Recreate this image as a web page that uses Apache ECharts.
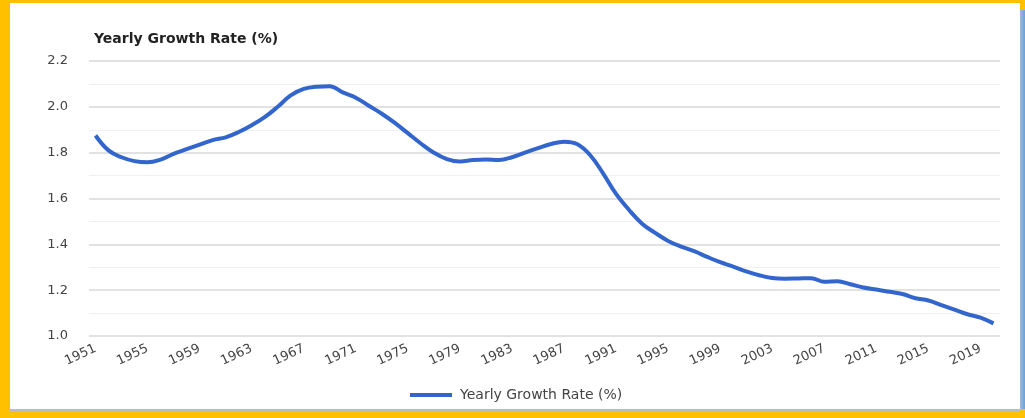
<!DOCTYPE html>
<html>
<head>
<meta charset="utf-8">
<script src="https://cdn.jsdelivr.net/npm/echarts@6/dist/echarts.min.js"></script>
<style>
  html, body { margin: 0; padding: 0; width: 1025px; height: 418px; overflow: hidden; background: #FFC000; }
  #panel { position: absolute; left: 10px; top: 3px; width: 1010px; height: 406px; background: #ffffff; border-bottom: 2px solid #b9bcc4; }
  #strip { position: absolute; left: 1020px; top: 10px; width: 5px; height: 399px; background: linear-gradient(to right, #9dbde0, #6f9fd4); }
  #chart { position: absolute; left: 0; top: 0; width: 1025px; height: 418px; }
</style>
</head>
<body>
<div id="panel"></div>
<div id="strip"></div>
<div id="chart"></div>
<script>
const years = ['1951','1952','1953','1954','1955','1956','1957','1958','1959','1960',
  '1961','1962','1963','1964','1965','1966','1967','1968','1969','1970',
  '1971','1972','1973','1974','1975','1976','1977','1978','1979','1980',
  '1981','1982','1983','1984','1985','1986','1987','1988','1989','1990',
  '1991','1992','1993','1994','1995','1996','1997','1998','1999','2000',
  '2001','2002','2003','2004','2005','2006','2007','2008','2009','2010',
  '2011','2012','2013','2014','2015','2016','2017','2018','2019','2020'];

const growthRate = [1.875, 1.81, 1.78, 1.763, 1.758, 1.77, 1.795, 1.815, 1.835, 1.855,
  1.867, 1.89, 1.92, 1.955, 2.00, 2.05, 2.078, 2.088, 2.09, 2.063,
  2.04, 2.005, 1.97, 1.93, 1.885, 1.84, 1.80, 1.772, 1.761, 1.768,
  1.77, 1.768, 1.78, 1.80, 1.82, 1.838, 1.848, 1.838, 1.79, 1.71,
  1.62, 1.55, 1.49, 1.45, 1.415, 1.39, 1.37, 1.345, 1.322, 1.303,
  1.282, 1.265, 1.253, 1.25, 1.251, 1.252, 1.237, 1.239, 1.226, 1.212,
  1.203, 1.193, 1.183, 1.165, 1.155, 1.135, 1.115, 1.095, 1.08, 1.055];

const seriesName = 'Yearly Growth Rate (%)';
const axisTitle = 'Yearly Growth Rate (%)';

const chart = echarts.init(document.getElementById('chart'), null, { renderer: 'canvas' });
chart.setOption({
  backgroundColor: 'transparent',
  animation: false,
  title: {
    text: axisTitle,
    left: 89, top: 27,
    textStyle: { fontFamily: 'DejaVu Sans', fontWeight: 'bold', fontSize: 14, color: '#222' }
  },
  legend: {
    data: [{ name: seriesName, icon: 'rect' }],
    left: 410, top: 388, padding: 0,
    itemWidth: 42, itemHeight: 4,
    textStyle: { fontFamily: 'DejaVu Sans', fontSize: 14, color: '#444', padding: [0, 0, 0, 3] }
  },
  grid: { left: 89, right: 25, top: 61, bottom: 82 },
  xAxis: {
    type: 'category',
    data: years,
    boundaryGap: true,
    axisLine: { show: false },
    axisTick: { show: false },
    axisLabel: {
      interval: 3, rotate: 25, margin: 12,
      fontFamily: 'DejaVu Sans', fontSize: 13, color: '#444'
    },
    splitLine: { show: false }
  },
  yAxis: {
    type: 'value',
    min: 1.0, max: 2.2, interval: 0.2,
    axisLine: { show: false },
    axisTick: { show: false },
    axisLabel: {
      margin: 21, fontFamily: 'DejaVu Sans', fontSize: 13, color: '#444',
      formatter: v => v.toFixed(1)
    },
    splitLine: { show: true, lineStyle: { color: '#e2e2e2', width: 2 } },
    minorTick: { show: false, splitNumber: 2 },
    minorSplitLine: { show: true, lineStyle: { color: '#f0f0f0', width: 1 } }
  },
  series: [{
    name: seriesName,
    type: 'line',
    data: growthRate,
    smooth: 0.4,
    symbol: 'none',
    lineStyle: { color: '#3366cc', width: 4 },
    itemStyle: { color: '#3366cc' }
  }]
});
</script>
</body>
</html>
